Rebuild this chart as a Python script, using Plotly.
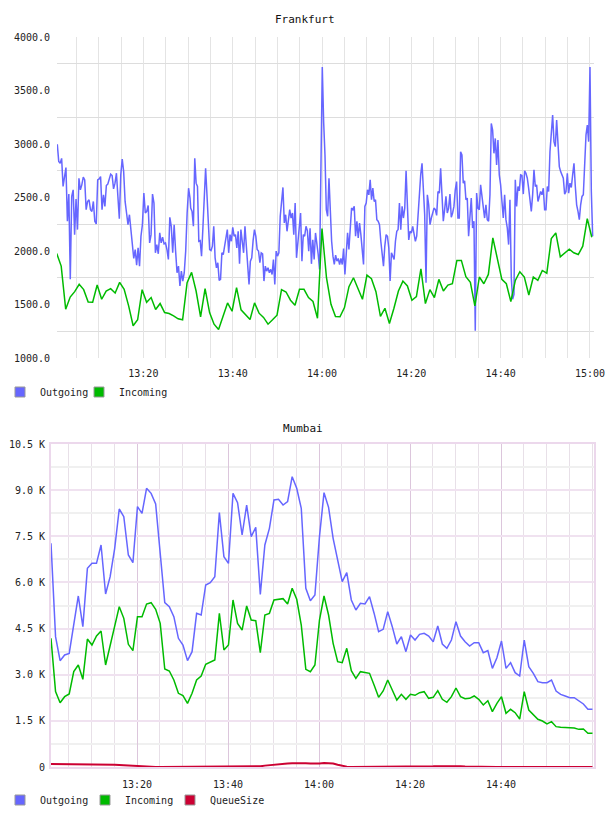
import plotly.graph_objects as go
import pandas as pd

DAY = "2024-01-01 "

# ---------------- Frankfurt ----------------
FRA_OUT_1 = [2997,2836,2820,2866,2603,2696,2780,2278,2532,1735,
             2510,2572,2153,2485,2200,2680,2572,2618,2690,2665,
             2386,2463,2479,2386,2370,2463,2278,2253,2665,2674,
             2696,2386,2525,2417,2612,2625,2665,2718,2705,2581,
             2634,2727,2510,2302,2711,2860,2742,2463,2355,2246,
             2339,2200,1999,1930,2014,1868,2029,1859,2138,2246,
             2541,2355,2370,2426,2076,2153,2532,2448,1983,2060,
             1974,2169,2076,2129,2067,2076,2014,1921,2315,2231,
             1983,2246,1999,1797,1859,1673,1812,1719,1797,1999,
             2355,2587,2494]
FRA_OUT_2 = [2401,2370,2231,2866,2634,2603,2091,2097,1952,2215,
             2479,2773,2525,2231,2014,2005,2045,2231,1936,1843,
             1890,1726,1735,1983,1967,2045,2138,2200,1983,2153,
             2091,2222,2138,2153,2029,2184,1880,2200,2091,1983,
             2231,2014,1890,1688,1905,1936,2097,2200,2138,2014,
             1999,1890,1983,1974,1719,1859,1812,1843,1797,1828,
             1781,1921,1688,1999,1952,1983,2324,2463,2594,2262,
             2339,2184,2278,2386,2308,2355,2153,2448,1936,2091,
             2215,2355,1905,2153,2138,2231,2191,1999,2212,1880,
             2104,1921,2169,2029,1967,1828,3022,3719,3207]
FRA_OUT_3 = [2897,2386,2324,2680,2339,2091,1952,1874,1961,1905,
             1930,1874,1930,1874,2023,1781,1974,2169,2014,2246,
             2401,2386,2417,2138,2278,2122,2262,2153,2023,1874,
             2417,2448,2572,2525,2665,2479,2587,2463,2479,2293,
             2278,2246,2091,1952,1859,2045,2153,2138,2029,1719,
             1983,1952,1921,2091,2184,2200,2448,2200,2417,2308,
             2401,2749,2355,2104,2184,2169,2231,2153,2091,2138,
             2370,2587,2711,2820,2587,2339,1704,2525,2432,2246,
             2308,2370,2401,2386,2333,2556,2541,2773,2463,2278,
             2386,2510,2355,2401,2532,2315,2355,2417,2572,2649,
             2308]
FRA_OUT_4 = [2308,2928,2897,2634,2655,2479,2494,2138,2355,2494,
             2215,2278,1254,2541,2401,2386,2618,2510,2355,2308,
             2432,2293,2278,2525,3192,3130,2913,3052,2804,3037,
             2711,2618,2463,2308,2525,2293,2215,2060,2479,1750,
             1549,1595,2665,2417,2603,2562,2711,2705,2532,2749,
             2727,2680,2587,2463,2370,2525,2758,2603,2618,2463,
             2510,2556,2525,2587,2386,2386,2603,2556,2928,3099,
             3270,3022,2975,3223,2990,2789,2742,2711,2680,2532,
             2556,2727,2541,2634,2594,2711,2820,2603,2432,2370,
             2293,2432,2510,2525,2773,3083,3176,3022,3719,2556,
             2138]
FRA_OUT_WINDOWS = [("13:00:44", "13:30:27"), ("13:30:36", "14:00:22"),
                   ("14:00:40", "14:30:26"), ("14:30:44", "15:00:36")]

FRA_IN = [1977,1859,1456,1570,1620,1688,1639,1524,1521,1682,
          1549,1626,1648,1608,1707,1642,1487,1301,1357,1639,
          1521,1565,1453,1509,1425,1416,1394,1366,1357,1704,
          1800,1626,1385,1648,1425,1316,1267,1394,1515,1437,
          1657,1450,1400,1360,1515,1419,1379,1316,1357,1400,
          1639,1617,1540,1493,1642,1642,1565,1528,1372,2209,
          1750,1502,1388,1385,1471,1667,1750,1648,1549,1775,
          1741,1620,1388,1465,1323,1465,1626,1719,1673,1540,
          1574,1834,1509,1639,1565,1735,1626,1682,1694,1912,
          1912,1760,1707,1487,1757,1694,1781,2122,1930,1735,
          1694,1528,1725,1806,1757,1589,1757,1725,1818,1793,
          2116,2169,1946,1983,2017,1983,1967,2045,2302,2129]
FRA_IN_WINDOW = ("13:00:36", "15:00:24")
FRA_YTICKS = [1000, 1500, 2000, 2500, 3000, 3500, 4000]
FRA_YGRID = [1250, 1750, 2250, 2750, 3250, 3750]

# ---------------- Mumbai ----------------
MUM_OUT = [7271,4237,3457,3641,3695,4562,5559,4562,6458,6621,
           6621,7217,5624,6187,7109,8387,8138,6892,6642,8463,
           8246,9059,8896,8550,6837,5342,5212,4887,4183,3966,
           3457,3749,4995,4941,5916,5992,6187,8268,6837,6621,
           8896,8593,7542,8517,7488,7791,5613,7217,7758,8680,
           8701,8517,8625,9438,9059,8409,5808,5407,5591,7488,
           8918,8441,7434,6729,6025,6317,5429,5104,5320,5299,
           5537,5000,4399,4475,5050,4562,3998,4237,3749,4291,
           4128,4313,4345,4258,4074,4583,3998,3858,4128,4724,
           4258,4074,3933,4041,4041,3717,3782,3207,3554,4096,
           3207,3392,3067,2958,4128,3262,3045,2774,2741,2741,
           2828,2471,2362,2308,2254,2254,2156,2048,1875,1875]
MUM_IN = [4183,2449,2091,2286,2373,3099,3316,2850,4161,3966,
          4258,4421,3316,3966,4562,5212,4833,3988,3782,4887,
          4887,5299,5342,5125,4670,3186,3121,2828,2395,2319,
          2070,2395,2828,2958,3338,3403,3478,4995,3803,3966,
          5429,4670,4453,5234,4779,4757,3717,4941,4995,5429,
          5451,5472,5299,5808,5451,4616,3175,3099,3316,4779,
          5559,4941,4020,3424,3392,3858,3132,2882,3099,3077,
          3045,2666,2265,2471,2828,2503,2178,2362,2200,2362,
          2330,2416,2449,2232,2265,2481,2200,2102,2286,2568,
          2286,2221,2232,2308,2200,2016,2156,1799,2070,2286,
          1745,1875,1766,1560,2449,1853,1690,1550,1495,1398,
          1474,1311,1290,1279,1257,1268,1224,1235,1094,1094]
MUM_QUEUE = [98,98,98,97,97,96,96,95,94,93,
             90,87,84,80,75,68,58,45,32,18,
             8,2,0,0,0,0,0,0,0,0,
             0,0,0,0,0,0,0,0,0,0,
             0,0,0,0,0,5,22,45,62,76,
             88,100,112,122,128,130,122,112,104,112,
             126,130,112,75,40,12,0,0,0,0,
             0,0,0,0,0,0,0,0,0,0,
             0,0,5,15,22,28,32,32,30,28,
             24,18,12,6,2,0,0,0,0,0,
             0,0,0,0,0,0,0,0,0,0,
             0,0,0,0,0,0,0,0,0,0]
MUM_START = "13:01:06"
MUM_YTICKS = [0, 1500, 3000, 4500, 6000, 7500, 9000, 10500]
MUM_YTEXT = ["0", "1.5 K", "3.0 K", "4.5 K", "6.0 K", "7.5 K", "9.0 K", "10.5 K"]
MUM_YGRID = [750, 2250, 3750, 5250, 6750, 8250, 9750]
MUM_XTICKS = ["13:20", "13:40", "14:00", "14:20", "14:40"]

COLORS = {"Outgoing": "#6666ff", "Incoming": "#00bb00", "QueueSize": "#cc0033"}

# ---------------- build x values ----------------
fra_out_y = FRA_OUT_1 + FRA_OUT_2 + FRA_OUT_3 + FRA_OUT_4
fra_out_x = []
for seg, (s, e) in zip([FRA_OUT_1, FRA_OUT_2, FRA_OUT_3, FRA_OUT_4], FRA_OUT_WINDOWS):
    fra_out_x += list(pd.date_range(DAY + s, DAY + e, periods=len(seg)))
fra_in_x = pd.date_range(DAY + FRA_IN_WINDOW[0], DAY + FRA_IN_WINDOW[1], periods=len(FRA_IN))
mum_x = pd.date_range(DAY + MUM_START, periods=len(MUM_OUT), freq="1min")

W, H = 608, 816
def fx(p):
    return p / W
def fy(p):
    return 1 - p / H

FONT = "DejaVu Sans Mono"
TXT = "#222222"
fig = go.Figure()

fig.add_trace(go.Scatter(x=fra_out_x, y=fra_out_y, mode="lines", name="Outgoing",
                         line=dict(color=COLORS["Outgoing"], width=1.5),
                         xaxis="x", yaxis="y", showlegend=False))
fig.add_trace(go.Scatter(x=fra_in_x, y=FRA_IN, mode="lines", name="Incoming",
                         line=dict(color=COLORS["Incoming"], width=1.5),
                         xaxis="x", yaxis="y", showlegend=False))

fig.add_trace(go.Scatter(x=mum_x, y=MUM_OUT, mode="lines", name="Outgoing",
                         line=dict(color=COLORS["Outgoing"], width=1.5),
                         xaxis="x2", yaxis="y2", showlegend=False))
fig.add_trace(go.Scatter(x=mum_x, y=MUM_IN, mode="lines", name="Incoming",
                         line=dict(color=COLORS["Incoming"], width=1.5),
                         xaxis="x2", yaxis="y2", showlegend=False))
fig.add_trace(go.Scatter(x=mum_x, y=MUM_QUEUE, mode="lines", name="QueueSize",
                         line=dict(color=COLORS["QueueSize"], width=2),
                         xaxis="x2", yaxis="y2", showlegend=False))

# legend entries (square swatches); a trailing blank entry keeps the last label unclipped
for lg, names, xa, ya in [("legend", ["Outgoing", "Incoming"], "x", "y"),
                          ("legend2", ["Outgoing", "Incoming", "QueueSize"], "x2", "y2")]:
    for n in names:
        fig.add_trace(go.Scatter(x=[None], y=[None], mode="markers", name=n,
                                 marker=dict(symbol="square", size=10, color=COLORS[n],
                                             line=dict(color="#999999", width=1)),
                                 xaxis=xa, yaxis=ya, legend=lg, showlegend=True))
    fig.add_trace(go.Scatter(x=[None], y=[None], mode="markers", name=" ",
                             marker=dict(symbol="square", size=1, color="rgba(0,0,0,0)",
                                         line=dict(width=0)),
                             xaxis=xa, yaxis=ya, legend=lg, showlegend=True, hoverinfo="skip"))

fig.update_layout(
    width=W, height=H, margin=dict(l=0, r=0, t=0, b=0, autoexpand=False),
    paper_bgcolor="white", plot_bgcolor="white",
    font=dict(family=FONT, size=10, color=TXT),
    xaxis=dict(domain=[fx(57), fx(594)], anchor="y", type="date", automargin=False,
               range=[DAY + "13:00:40", DAY + "15:00:54"],
               tick0=DAY + "13:00:00", dtick=20 * 60 * 1000, tickformat="%H:%M",
               showgrid=True, gridcolor="#e4e4e4", gridwidth=1,
               minor=dict(dtick=5 * 60 * 1000, showgrid=True, gridcolor="#e4e4e4", gridwidth=1, ticks=""),
               ticks="", showline=False, zeroline=False, ticklabelstandoff=8,
               tickfont=dict(family=FONT, size=10, color=TXT)),
    yaxis=dict(domain=[fy(358), fy(37)], anchor="x", range=[1000, 4000], automargin=False,
               tickvals=FRA_YTICKS, tickformat=".1f", showgrid=False,
               minor=dict(tickvals=FRA_YGRID, showgrid=True, gridcolor="#dddddd", gridwidth=1, ticks=""),
               ticks="", showline=False, zeroline=False, ticklabelstandoff=6,
               tickfont=dict(family=FONT, size=10, color=TXT)),
    xaxis2=dict(domain=[fx(51), fx(594)], anchor="y2", type="date", automargin=False,
                range=[DAY + "13:01:06", DAY + "15:00:26"],
                tickvals=[DAY + t for t in MUM_XTICKS], tickformat="%H:%M",
                showgrid=True, gridcolor="#dcc6dc", gridwidth=1,
                minor=dict(dtick=5 * 60 * 1000, tick0=DAY + "13:00:00", showgrid=True,
                           gridcolor="#e8e0e8", gridwidth=1, ticks=""),
                ticks="", showline=True, linecolor="#ecd8ec", linewidth=2, mirror=True,
                zeroline=False, ticklabelstandoff=7,
                tickfont=dict(family=FONT, size=10, color=TXT)),
    yaxis2=dict(domain=[fy(767), fy(444)], anchor="x2", range=[0, 10500], automargin=False,
                tickvals=MUM_YTICKS, ticktext=MUM_YTEXT, showgrid=True,
                gridcolor="#f0e2f0", gridwidth=2,
                minor=dict(tickvals=MUM_YGRID, showgrid=True, gridcolor="#f0f0f0", gridwidth=2, ticks=""),
                ticks="", showline=True, linecolor="#ecd8ec", linewidth=2, mirror=True,
                zeroline=False, ticklabelstandoff=2,
                tickfont=dict(family=FONT, size=10, color=TXT)),
    legend=dict(orientation="h", x=0.0, xanchor="left", y=fy(392), yanchor="middle",
                bgcolor="rgba(0,0,0,0)", font=dict(family=FONT, size=10, color=TXT),
                entrywidth=34, entrywidthmode="pixels", itemwidth=30, tracegroupgap=0),
    legend2=dict(orientation="h", x=0.0, xanchor="left", y=fy(800), yanchor="middle",
                 bgcolor="rgba(0,0,0,0)", font=dict(family=FONT, size=10, color=TXT),
                 entrywidth=40, entrywidthmode="pixels", itemwidth=30, tracegroupgap=0),
    annotations=[
        dict(text="Frankfurt", x=fx(305), y=fy(19), xref="paper", yref="paper",
             showarrow=False, xanchor="center", yanchor="middle",
             font=dict(family=FONT, size=11, color="#111111")),
        dict(text="Mumbai", x=fx(303), y=fy(428), xref="paper", yref="paper",
             showarrow=False, xanchor="center", yanchor="middle",
             font=dict(family=FONT, size=11, color="#111111")),
    ],
)

fig.write_html("out.html")
